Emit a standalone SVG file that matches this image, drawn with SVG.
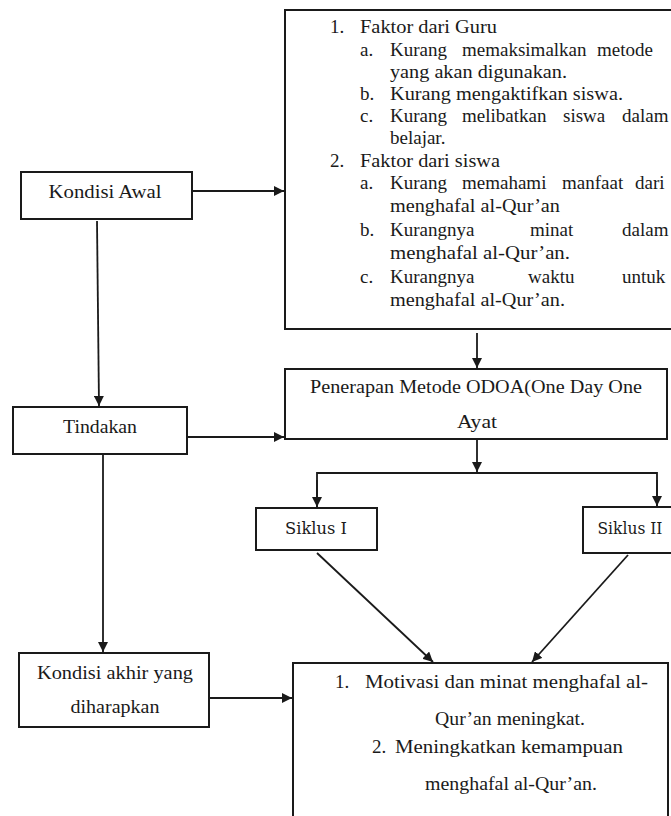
<svg xmlns="http://www.w3.org/2000/svg" width="671" height="816" viewBox="0 0 671 816">
<style>
.box{fill:#fff;stroke:#1a1a1a;stroke-width:2}
.t{font-family:"Liberation Serif","Times New Roman",serif;font-size:19px;fill:#1a1a1a}
.c{text-anchor:middle}
.s{font-family:"DejaVu Serif","Liberation Serif",serif;font-size:17px;fill:#1a1a1a}
.ln{fill:none;stroke:#1a1a1a;stroke-width:1.8}
</style>
<defs>
<marker id="ah" markerUnits="userSpaceOnUse" markerWidth="11" markerHeight="10" refX="10" refY="5" orient="auto">
<path d="M0,0 L10,5 L0,10 z" fill="#1a1a1a"/>
</marker>
</defs>
<rect width="671" height="816" fill="#fff"/>

<g id="connectors">
<line class="ln" x1="192" y1="191" x2="284" y2="191" marker-end="url(#ah)"/>
<line class="ln" x1="97" y1="221" x2="99" y2="406" marker-end="url(#ah)"/>
<line class="ln" x1="477" y1="333" x2="477" y2="368" marker-end="url(#ah)"/>
<line class="ln" x1="187" y1="437" x2="284" y2="437" marker-end="url(#ah)"/>
<line class="ln" x1="477" y1="440" x2="477" y2="472" marker-end="url(#ah)"/>
<polyline class="ln" points="317,507 317,473 657,473 657,506"/>
<line class="ln" x1="317" y1="480" x2="317" y2="507" marker-end="url(#ah)"/>
<line class="ln" x1="657" y1="480" x2="657" y2="506" marker-end="url(#ah)"/>
<line class="ln" x1="317" y1="553" x2="433" y2="662" marker-end="url(#ah)"/>
<line class="ln" x1="628" y1="555" x2="532" y2="662" marker-end="url(#ah)"/>
<line class="ln" x1="103" y1="455" x2="103" y2="652" marker-end="url(#ah)"/>
<line class="ln" x1="209" y1="698" x2="292" y2="698" marker-end="url(#ah)"/>
</g>

<g id="faktor">
<rect class="box" x="285" y="10" width="400" height="319"/>
<text class="t" y="33"><tspan x="330">1.</tspan><tspan x="360" textLength="137" lengthAdjust="spacingAndGlyphs">Faktor dari Guru</tspan></text>
<text class="t" y="56"><tspan x="360">a.</tspan><tspan x="390">Kurang</tspan><tspan x="462">memaksimalkan</tspan><tspan x="597">metode</tspan></text>
<text class="t" x="390" y="78" textLength="177" lengthAdjust="spacingAndGlyphs">yang akan digunakan.</text>
<text class="t" y="100"><tspan x="360">b.</tspan><tspan x="390" textLength="233" lengthAdjust="spacingAndGlyphs">Kurang mengaktifkan siswa.</tspan></text>
<text class="t" y="122"><tspan x="360">c.</tspan><tspan x="390">Kurang</tspan><tspan x="462">melibatkan</tspan><tspan x="563">siswa</tspan><tspan x="622">dalam</tspan></text>
<text class="t" x="390" y="144">belajar.</text>
<text class="t" y="167"><tspan x="330">2.</tspan><tspan x="360" textLength="140" lengthAdjust="spacingAndGlyphs">Faktor dari siswa</tspan></text>
<text class="t" y="189"><tspan x="360">a.</tspan><tspan x="390">Kurang</tspan><tspan x="462">memahami</tspan><tspan x="562">manfaat</tspan><tspan x="635">dari</tspan></text>
<text class="t" x="390" y="212" textLength="170" lengthAdjust="spacingAndGlyphs">menghafal al-Qur’an</text>
<text class="t" y="236"><tspan x="360">b.</tspan><tspan x="390">Kurangnya</tspan><tspan x="530">minat</tspan><tspan x="622">dalam</tspan></text>
<text class="t" x="390" y="259" textLength="180" lengthAdjust="spacingAndGlyphs">menghafal  al-Qur’an.</text>
<text class="t" y="283"><tspan x="360">c.</tspan><tspan x="390">Kurangnya</tspan><tspan x="528">waktu</tspan><tspan x="622">untuk</tspan></text>
<text class="t" x="390" y="306" textLength="175" lengthAdjust="spacingAndGlyphs">menghafal al-Qur’an.</text>
</g>

<g id="kondisi-awal">
<rect class="box" x="21" y="172" width="171" height="47"/>
<text class="t c" x="105" y="198" textLength="113" lengthAdjust="spacingAndGlyphs">Kondisi Awal</text>
</g>

<g id="tindakan">
<rect class="box" x="13" y="407" width="174" height="47"/>
<text class="t c" x="100" y="433" textLength="74" lengthAdjust="spacingAndGlyphs">Tindakan</text>
</g>

<g id="penerapan">
<rect class="box" x="285" y="369" width="382" height="70"/>
<text class="t c" x="476" y="393" textLength="332" lengthAdjust="spacingAndGlyphs">Penerapan Metode ODOA(One Day One</text>
<text class="t c" x="477" y="428" textLength="40" lengthAdjust="spacingAndGlyphs">Ayat</text>
</g>

<g id="siklus-1">
<rect class="box" x="256" y="508" width="121" height="42"/>
<text class="s c" x="316" y="534" textLength="62" lengthAdjust="spacingAndGlyphs">Siklus I</text>
</g>

<g id="siklus-2">
<rect class="box" x="583" y="507" width="110" height="46"/>
<text class="s c" x="630" y="534" textLength="65" lengthAdjust="spacingAndGlyphs">Siklus II</text>
</g>

<g id="kondisi-akhir">
<rect class="box" x="19" y="653" width="190" height="74"/>
<text class="t c" x="115" y="679" textLength="156" lengthAdjust="spacingAndGlyphs">Kondisi akhir yang</text>
<text class="t c" x="115" y="713" textLength="89" lengthAdjust="spacingAndGlyphs">diharapkan</text>
</g>

<g id="hasil">
<rect class="box" x="293" y="663" width="375" height="170"/>
<text class="t" y="688"><tspan x="335">1.</tspan><tspan x="365" textLength="283" lengthAdjust="spacingAndGlyphs">Motivasi dan minat menghafal al-</tspan></text>
<text class="t" x="435" y="725" textLength="150" lengthAdjust="spacingAndGlyphs">Qur’an meningkat.</text>
<text class="t" y="753"><tspan x="372">2.</tspan><tspan x="395" textLength="228" lengthAdjust="spacingAndGlyphs">Meningkatkan kemampuan</tspan></text>
<text class="t" x="425" y="790" textLength="172" lengthAdjust="spacingAndGlyphs">menghafal al-Qur’an.</text>
</g>
</svg>
